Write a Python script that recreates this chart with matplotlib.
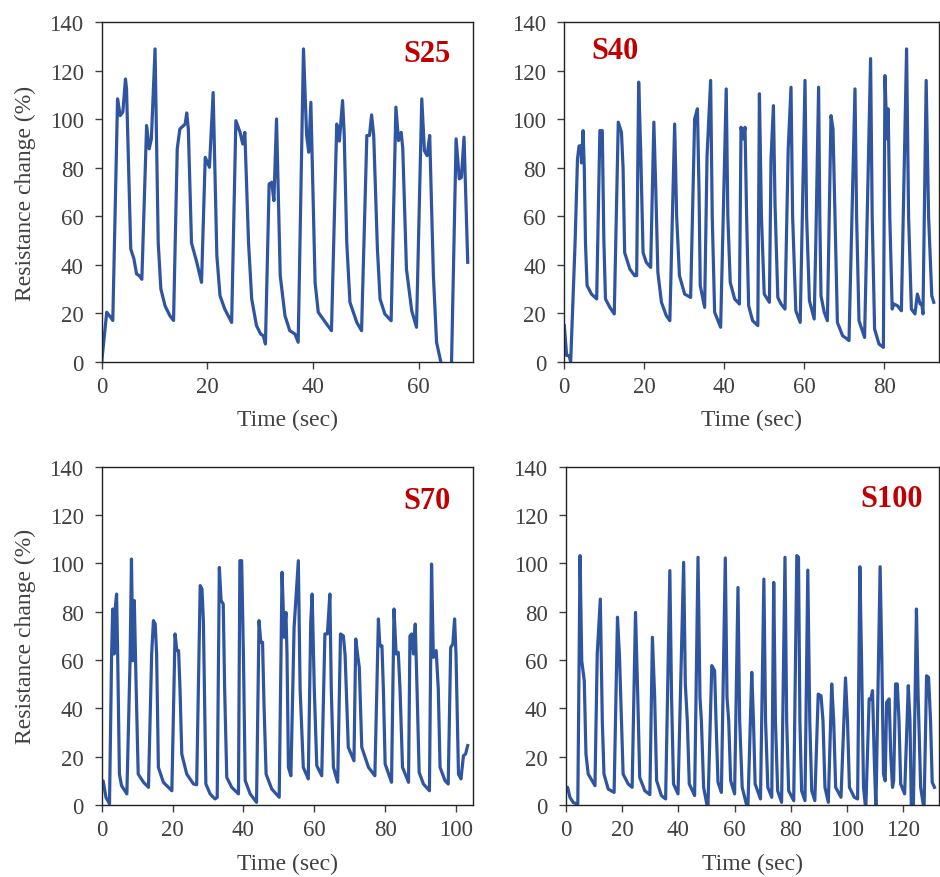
import matplotlib
matplotlib.use('Agg')
import matplotlib.pyplot as plt

plt.rcParams['font.family'] = ['Liberation Serif', 'DejaVu Serif']

# S25
t25 = [0, 0.95, 1.7, 2.1, 3.0, 3.5, 4.0, 4.5, 4.7, 5.5, 6.1, 6.6, 7.1, 7.6,
       8.5, 9.0, 9.4, 10.1, 10.7, 11.2, 12.0, 12.9, 13.6,
       14.3, 14.8, 15.8, 16.1, 16.4, 17.0, 18.0, 18.9,
       19.6, 20.4, 21.1, 21.8, 22.4, 23.3, 24.6,
       25.4, 26.2, 26.7, 27.1, 27.8, 28.4, 29.3, 30.1, 30.6, 31.0,
       31.7, 32.2, 32.6, 33.1, 33.8, 34.7, 35.6, 36.6, 37.2,
       38.2, 38.8, 39.2, 39.6, 40.4, 41.0, 42.6, 43.5,
       44.5, 45.0, 45.6, 45.9, 46.4, 47.0, 48.3, 49.2,
       50.2, 50.7, 51.1, 51.5, 52.2, 52.7, 53.6, 54.8,
       55.7, 56.2, 56.7, 57.0, 57.7, 58.7, 59.6,
       60.6, 61.1, 61.6, 62.1, 62.8, 63.4, 64.4, 65.0, 66.2,
       67.1, 67.7, 68.1, 68.6, 69.3]
v25 = [0, 20.4, 18.3, 17, 108.4, 101.5, 103, 116.6, 112.5, 46.5, 42.4, 36.2, 35.5, 34,
       97.4, 87.8, 91.9, 129, 49, 30, 23, 19, 17,
       87.8, 96, 98, 102.6, 96, 49, 41, 32.7,
       84.3, 80.2, 111, 43.7, 27.2, 21.7, 16.2,
       99.4, 94.6, 89.8, 94.6, 49, 25.9, 14.9, 11.4, 10.7, 7.3,
       73.3, 74, 66.4, 100.1, 35.5, 19, 12.8, 11.4, 8,
       129, 93.3, 86.4, 107, 32.7, 20.4, 15.5, 12.8,
       98, 91, 107.7, 94.6, 49, 24.5, 16.2, 12.8,
       93.3, 93.3, 101.8, 93.3, 46.5, 25.9, 19.7, 16.9,
       105, 91.2, 94.6, 88, 38.2, 21, 14.2,
       108.4, 87, 85, 93.3, 35.5, 8, -2, -4, -4,
       91.9, 75.4, 76, 92.6, 41]

# S40
t40 = [0, 0.6, 1.2, 1.6, 2.7, 3.3, 3.7, 4.2, 4.3, 4.7, 5.0, 5.3, 5.7, 6.8, 8.1,
       8.9, 9.5, 9.9, 10.3, 11.4, 12.5,
       13.5, 14.3, 14.7, 15.1, 16.4, 17.6, 18.1,
       18.6, 19.1, 19.7, 20.5, 21.6,
       22.4, 22.9, 23.4, 24.3, 25.5, 26.4,
       27.6, 28.1, 28.8, 30.1, 31.6,
       32.6, 33.3, 33.7, 34.0, 35.1, 35.7, 36.6, 37.0, 37.6, 39.1,
       40.5, 40.9, 41.5, 42.6, 43.8,
       44.2, 44.7, 45.2, 45.6, 46.1, 47.1, 48.4,
       48.8, 49.3, 50.0, 51.3, 51.7, 52.3, 52.7, 53.4, 54.2, 55.2,
       56.0, 56.7, 57.1, 57.9, 59.0,
       60.2, 60.6, 61.3, 62.5, 62.9, 63.6, 63.9, 64.2, 65.0, 65.8,
       66.7, 67.2, 67.7, 68.3, 69.6, 70.7, 71.2,
       72.7, 73.1, 73.7, 75.1,
       76.6, 77.0, 77.6, 78.7, 79.8,
       80.2, 80.7, 81.0, 81.4, 82.0, 82.4, 83.3, 84.3,
       85.6, 86.1, 86.8, 87.7, 88.3, 89.0, 89.4, 89.7,
       90.5, 91.1, 91.9, 92.4]
v40 = [14.9, 2.5, 2.5, 0, 49, 83.6, 89, 89, 82, 95.3, 80, 49, 31.4, 27.9, 25.9,
       95.3, 95.3, 50, 25.9, 22.4, 19.7,
       98.8, 94.6, 80, 45, 38.2, 35.5, 35.5,
       115.3, 87.8, 45, 41, 38.9,
       98.8, 70, 36.9, 24.5, 19, 16.9,
       98, 60, 35.5, 27.9, 26.5,
       100.1, 104.3, 70, 31.4, 22.4, 85, 116, 60, 20.4, 14.2,
       112.5, 60, 32.7, 25.9, 23.8,
       96.7, 91.9, 96.7, 60, 23.1, 16.9, 14.9,
       110.5, 60, 27.9, 24.5, 83.6, 105.6, 65, 26.5, 23.8, 21.7,
       87.8, 113.2, 60, 21, 16.2,
       116, 60, 25.2, 17.6, 49, 113.2, 60, 27.2, 20.4, 16.9,
       101.5, 96, 60, 16.2, 10.7, 9.4, 8.7,
       112.5, 60, 16.9, 10,
       125, 60, 13.5, 7.3, 5.9,
       118, 91.9, 104.3, 60, 21.7, 23.8, 23.1, 21,
       129, 60, 21.7, 19.7, 27.9, 23.8, 24, 19.7,
       116, 60, 27.2, 24.5]

# S70
t70 = [0, 0.4, 1.2, 2.2, 2.8, 3.1, 3.5, 3.8, 4.2, 4.5, 5.0, 5.6, 7.1,
       8.0, 8.4, 8.8, 9.2, 9.7, 10.3, 11.8, 13.2,
       14.1, 14.6, 15.1, 15.5, 16.0, 17.4, 19.8,
       20.7, 21.2, 21.7, 22.1, 22.6, 24.0, 25.9, 26.8,
       27.8, 28.3, 28.7, 29.4, 30.6, 32.0, 32.6,
       33.2, 33.7, 34.3, 34.7, 35.3, 36.7, 38.6,
       39.0, 39.5, 40.0, 40.5, 41.9, 43.7,
       44.4, 44.9, 45.4, 45.8, 46.4, 48.0, 50.1,
       50.9, 51.5, 52.0, 52.3, 52.7, 53.4, 54.3, 55.5, 56.0, 56.9, 58.3,
       59.0, 59.4, 59.7, 60.0, 60.7, 62.1, 63.0, 63.7, 64.4, 64.8, 65.4, 66.6,
       67.4, 68.2, 68.7, 69.6, 71.2, 71.7, 72.2, 72.7, 73.4, 75.3, 77.1,
       78.1, 78.5, 79.1, 79.5, 80.0, 81.8,
       82.5, 83.1, 83.7, 84.2, 84.9, 86.6, 87.0, 87.5, 88.0, 88.5, 89.0, 89.6, 90.8, 92.5,
       93.1, 93.6, 94.4, 95.0, 95.5, 96.9, 97.8,
       98.5, 99.1, 99.6, 100.0, 100.7, 101.4, 102.1, 102.7, 103.3]
v70 = [7.3, 10, 3.2, 0.4, 62.5, 81.1, 62.5, 81.1, 87.3, 62.5, 12.8, 8, 4.6,
       59.7, 101.8, 59.7, 84.6, 50, 12.8, 9.4, 7.3,
       62.5, 76.3, 74.9, 62.5, 15.6, 9.4, 5.9,
       70.8, 63.9, 63.9, 48, 21.1, 12.8, 8.7, 8.4,
       90.8, 89.4, 76, 8.7, 4.6, 2.5, 3.2,
       98.3, 84.6, 83.2, 48, 11.4, 7.3, 4.6,
       101.1, 101.1, 62, 10.1, 4.6, 1.1,
       76.3, 67.3, 67.3, 42, 12.8, 6.6, 3.2,
       96.3, 69.4, 79.7, 62.5, 15.6, 12.1, 73.5, 101.1, 48, 15.6, 10.8,
       75.6, 87.3, 68, 48, 16.3, 12.1, 70.8, 70.8, 87.3, 48, 15.6, 9.4,
       70.8, 70, 62, 23.9, 18.3, 68.7, 62.5, 57, 23.9, 15.6, 12.1,
       77, 65.9, 65.9, 48, 17, 9.4,
       81.1, 62.5, 63.2, 48, 15.6, 9.4, 70, 70.8, 62.5, 74.9, 48, 13.5, 8.7, 5.9,
       99.7, 61.1, 63.9, 48, 15.6, 10.1, 8.7,
       65.2, 66.6, 77, 62.5, 12.8, 10.8, 20.4, 21.1, 24.6]

# S100
t100 = [0, 0.7, 1.5, 2.7, 4.3,
        5.1, 5.7, 6.6, 7.2, 8.0, 10.4,
        11.2, 12.3, 13.0, 13.6, 15.1, 17.2,
        18.4, 19.1, 19.8, 20.4, 22.2, 23.6,
        24.8, 25.6, 26.3, 28.1, 29.9,
        30.8, 31.6, 32.3, 34.0, 35.5,
        37.0, 37.6, 38.3, 39.9,
        41.9, 42.5, 43.2, 43.9, 45.8,
        47.0, 47.7, 48.2, 49.0, 50.5,
        51.9, 52.9, 53.4, 54.1, 55.3,
        56.7, 57.3, 57.9, 58.6, 60.0,
        61.2, 61.8, 62.7, 64.7,
        66.1, 66.7, 67.3, 69.2,
        70.4, 71.0, 71.8, 73.2,
        73.9, 74.5, 75.3, 76.7,
        77.9, 78.5, 79.2, 81.0,
        82.1, 82.7, 83.2, 83.8, 85.0,
        86.0, 86.7, 87.4, 88.5,
        89.7, 90.7, 91.4, 92.1, 93.3,
        94.5, 95.2, 95.9, 97.8,
        99.4, 100.1, 100.8, 102.5, 103.7,
        104.5, 105.1, 105.8, 106.6,
        107.8, 108.4, 109.0, 109.6, 110.2,
        111.7, 112.3, 112.9, 113.5, 114.0, 114.9, 115.5, 116.1, 116.5,
        117.2, 117.8, 118.4, 119.0, 120.4,
        121.7, 122.3, 122.8, 123.5,
        124.6, 125.2, 126.1, 127.3,
        128.2, 128.9, 129.6, 130.2, 131.0]
v100 = [7.3, 7.3, 3.2, 1, 0.4,
        103.2, 59.7, 51.4, 21.1, 12.8, 8,
        62.5, 85.2, 35, 12.8, 6.6, 5.2,
        77.7, 61.8, 35, 12.8, 8.7, 7.3,
        79.7, 45, 11.4, 5.9, 4.3,
        69.4, 45, 10.1, 3.9, 2.5,
        97, 45, 8.7, 4.6,
        100.4, 50, 35, 8.7, 3.9,
        102.5, 44.6, 35, 7.3, -2,
        57.7, 55.6, 35, 9.4, 5.2,
        102.2, 44.6, 35, 10.1, 4.6,
        90, 35, 7.3, -2,
        54.9, 35, 8.7, 2.5,
        93.5, 35, 7.3, 3.2,
        92.1, 35, 5.9, 1.1,
        102.5, 35, 5.9, 1.8,
        103.2, 102.5, 35, 5.9, 1.8,
        97.2, 35, 5.9, 1.8,
        45.9, 45.2, 35, 7.3, 1.1,
        50.1, 35, 7.3, 3.2,
        52.6, 35, 7.3, 3.2, 2.5,
        98.6, 60, 7.3, -2,
        43.9, 43.9, 47.3, 20, -2,
        98.6, 60, 12.8, 10, 42.5, 43.9, 20, 7.3, 10,
        50.1, 50.1, 35, 8.7, 4.6,
        49.4, 35, -2, -2,
        81.1, 45, 7.3, -2,
        53.5, 52.8, 35, 9.4, 7.3]

labels = ['S25', 'S40', 'S70', 'S100']
series = [(t25, v25), (t40, v40), (t70, v70), (t100, v100)]
xlims = [70.3, 93.7, 104.8, 132.6]
xticks = [range(0, 61, 20), range(0, 81, 20), range(0, 101, 20), range(0, 121, 20)]

rects = [[0.1082, 0.5869, 0.395, 0.3866],
         [0.6003, 0.5869, 0.3986, 0.3866],
         [0.1082, 0.0820, 0.395, 0.3853],
         [0.6018, 0.0820, 0.3971, 0.3853]]
label_pos = [(0.875, 0.907), (0.135, 0.916), (0.875, 0.90), (0.872, 0.905)]

line_color = '#2F55A0'
tick_color = '#404040'

fig = plt.figure(figsize=(9.4, 8.78), dpi=100)
for i in range(4):
    ax = fig.add_axes(rects[i])
    t, v = series[i]
    ax.plot(t, v, color=line_color, lw=2.3, solid_joinstyle='round')
    ax.set_xlim(0, xlims[i])
    ax.set_ylim(0, 140)
    ax.set_yticks(range(0, 141, 20))
    ax.set_xticks(list(xticks[i]))
    ax.tick_params(direction='out', length=5, width=1, labelsize=16.5,
                   labelcolor=tick_color, color='#404040')
    ax.tick_params(axis='x', pad=5)
    ax.tick_params(axis='y', pad=8)
    for s in ax.spines.values():
        s.set_linewidth(1.0)
        s.set_color('#222222')
    ax.set_xlabel('Time (sec)', fontsize=17, color=tick_color, labelpad=9)
    if i % 2 == 0:
        ax.set_ylabel('Resistance change (%)', fontsize=17, color=tick_color, labelpad=10)
    ax.text(label_pos[i][0], label_pos[i][1], labels[i], transform=ax.transAxes,
            ha='center', va='center', fontsize=22, fontweight='bold', color='#C00000')

fig.savefig('out.png', dpi=100)
